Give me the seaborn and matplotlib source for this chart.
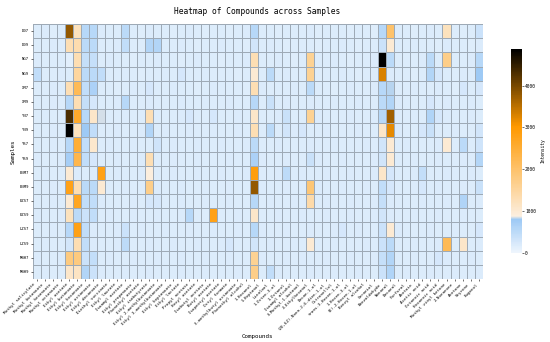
import matplotlib
matplotlib.use("Agg")
import matplotlib.pyplot as plt
from matplotlib.colors import LinearSegmentedColormap
import seaborn as sns
import numpy as np
import pandas as pd

samples = ["D07", "D09", "NG7", "NG9", "XM7", "XM9", "YN7", "YN9", "YS7", "YS9",
           "ENM7", "ENM9", "EZS7", "EZS9", "LZS7", "LZS9", "MBH7", "MBH9"]

compounds = [
    "Methyl salicylate", "Methyl butanoate", "Methyl hexanoate", "Methyl octanoate",
    "Ethyl acetate", "Ethyl butanoate", "Ethyl hexanoate", "Ethyl octanoate",
    "Ethyl decanoate", "Diethyl succinate", "Ethyl laurate", "Isoamyl acetate",
    "Ethyl propanoate", "Phenethyl acetate", "Ethyl isobutyrate", "Ethyl 2-methylbutanoate",
    "Ethyl 3-methylbutanoate", "Ethyl heptanoate", "Ethyl lactate", "Propyl acetate",
    "Hexyl acetate", "Isobutyl acetate", "Butyl acetate", "Isopentyl acetate",
    "Octyl formate", "3-methylbutyl octanoate", "Phenethyl alcohol", "1-Hexanol",
    "1-Heptanol", "Linalool", "1-Octen-3-ol", "1-Octanol",
    "Isoamyl alcohol", "3-Methyl-1-butanol", "2-Ethylhexanol", "Decan-1-ol",
    "(2E,6Z)-Nona-2,6-dien-1-ol", "Citronellol", "trans-3-Hexen-1-ol", "1-Hexen-3-ol",
    "(E)-2-Hexen-1-ol", "Benzyl alcohol", "Geraniol", "Benzaldehyde",
    "Nonanal", "Decanal", "Furfural", "Acetoin",
    "Acetic acid", "Octanoic acid", "Hexanoic acid", "Methyl vinyl ketone",
    "2-Nonanone", "Acetone", "Styrene", "Eugenol",
]

D07 = [180, 200, 170, 190, 3800, 1200, 550, 550,
       200, 180, 190, 500, 180, 170, 200, 190,
       180, 170, 190, 200, 180, 170, 190, 180,
       170, 190, 200, 550, 180, 190, 170, 180,
       190, 180, 200, 170, 180, 190, 180, 170,
       190, 180, 170, 550, 2000, 180, 190, 170,
       180, 200, 190, 1200, 180, 170, 190, 350]
D09 = [190, 180, 200, 180, 1300, 1350, 500, 500,
       190, 180, 200, 450, 180, 190, 600, 600,
       180, 190, 200, 180, 170, 190, 180, 200,
       190, 180, 170, 300, 190, 200, 180, 170,
       180, 190, 180, 170, 190, 180, 200, 180,
       170, 190, 180, 350, 1000, 190, 180, 200,
       190, 180, 170, 200, 190, 180, 170, 200]
NG7 = [200, 190, 180, 190, 130, 1300, 400, 400,
       190, 200, 180, 190, 170, 180, 190, 200,
       180, 190, 170, 180, 200, 190, 180, 170,
       190, 180, 200, 1300, 180, 190, 200, 180,
       170, 190, 1600, 180, 190, 200, 180, 170,
       190, 180, 200, 4870, 500, 180, 190, 180,
       200, 500, 180, 1700, 190, 180, 200, 550]
NG9 = [450, 190, 180, 200, 190, 1500, 500, 500,
       450, 180, 190, 200, 180, 170, 190, 180,
       200, 190, 250, 180, 190, 200, 180, 190,
       180, 170, 190, 1000, 180, 500, 190, 200,
       180, 190, 1600, 170, 180, 190, 200, 180,
       170, 180, 190, 3300, 200, 190, 180, 170,
       190, 600, 250, 180, 190, 200, 180, 780]
XM7 = [190, 180, 200, 180, 1300, 2200, 450, 650,
       180, 190, 170, 190, 200, 180, 250, 190,
       180, 200, 190, 180, 170, 190, 200, 180,
       190, 180, 170, 1300, 200, 190, 180, 190,
       200, 180, 500, 190, 180, 170, 190, 200,
       180, 190, 200, 550, 820, 180, 190, 200,
       180, 190, 200, 180, 170, 260, 190, 260]
XM9 = [180, 190, 200, 190, 550, 1300, 400, 250,
       190, 180, 200, 550, 190, 180, 200, 190,
       190, 180, 200, 190, 180, 200, 190, 180,
       200, 190, 180, 550, 190, 380, 180, 200,
       190, 180, 200, 190, 180, 200, 190, 180,
       200, 190, 180, 500, 600, 200, 180, 190,
       190, 260, 180, 200, 190, 180, 200, 190]
YN7 = [190, 200, 180, 190, 4300, 2600, 550, 1100,
       840, 190, 180, 200, 190, 180, 1300, 190,
       180, 190, 200, 260, 180, 190, 260, 180,
       190, 200, 180, 1100, 190, 180, 200, 380,
       190, 180, 1600, 200, 190, 180, 190, 200,
       180, 190, 200, 550, 3700, 190, 180, 200,
       190, 620, 260, 200, 180, 190, 200, 190]
YN9 = [180, 190, 200, 180, 4870, 1200, 780, 450,
       190, 180, 200, 190, 180, 200, 600, 190,
       200, 180, 190, 200, 180, 190, 200, 180,
       190, 200, 180, 1300, 190, 500, 180, 300,
       200, 250, 190, 180, 200, 190, 180, 190,
       200, 180, 190, 1100, 3200, 200, 190, 180,
       260, 380, 190, 180, 200, 190, 180, 300]
YS7 = [190, 180, 200, 190, 550, 2500, 450, 1050,
       180, 200, 190, 180, 200, 190, 180, 320,
       190, 200, 180, 190, 200, 180, 190, 200,
       180, 190, 200, 500, 180, 190, 200, 180,
       190, 180, 200, 190, 180, 200, 190, 180,
       190, 200, 180, 300, 1000, 190, 200, 180,
       190, 180, 200, 1000, 190, 500, 180, 320]
YS9 = [200, 190, 180, 200, 720, 2300, 450, 250,
       190, 180, 200, 190, 180, 200, 1300, 190,
       180, 200, 190, 180, 200, 190, 180, 190,
       200, 180, 190, 650, 200, 190, 180, 200,
       180, 190, 380, 200, 190, 180, 200, 190,
       180, 190, 200, 300, 1000, 180, 190, 200,
       180, 190, 200, 190, 180, 200, 190, 580]
ENM7 = [190, 200, 180, 190, 1000, 200, 190, 180,
        2800, 190, 200, 180, 190, 200, 900, 180,
        190, 200, 180, 190, 200, 180, 190, 200,
        180, 190, 200, 2900, 190, 180, 200, 480,
        190, 200, 180, 190, 200, 180, 190, 200,
        180, 190, 200, 1100, 250, 190, 180, 200,
        420, 190, 180, 200, 190, 180, 200, 190]
ENM9 = [180, 190, 200, 180, 2800, 1300, 500, 500,
        1000, 190, 180, 200, 190, 180, 1700, 200,
        180, 190, 200, 180, 190, 200, 180, 190,
        200, 180, 190, 3800, 200, 190, 180, 200,
        180, 190, 1900, 200, 180, 190, 200, 180,
        190, 200, 180, 450, 260, 180, 190, 200,
        260, 190, 200, 180, 190, 200, 180, 380]
EZS7 = [190, 180, 200, 190, 1000, 2700, 450, 450,
        200, 190, 180, 190, 200, 180, 260, 260,
        190, 180, 200, 190, 180, 200, 190, 180,
        200, 190, 180, 550, 190, 200, 180, 190,
        200, 180, 1400, 190, 200, 180, 190, 200,
        180, 190, 200, 400, 200, 190, 180, 190,
        200, 180, 190, 200, 180, 620, 190, 200]
EZS9 = [200, 190, 180, 200, 1200, 500, 350, 450,
        190, 200, 180, 190, 200, 180, 190, 200,
        180, 190, 200, 550, 190, 180, 2800, 190,
        180, 200, 190, 1100, 180, 190, 200, 180,
        190, 200, 180, 190, 200, 180, 190, 200,
        180, 190, 200, 300, 200, 180, 190, 200,
        180, 190, 200, 180, 190, 200, 180, 190]
LZS7 = [180, 190, 200, 190, 550, 2800, 450, 200,
        190, 180, 200, 350, 190, 200, 180, 190,
        200, 180, 190, 200, 180, 190, 200, 180,
        190, 200, 180, 550, 200, 180, 190, 200,
        180, 190, 200, 180, 190, 200, 260, 190,
        200, 180, 190, 350, 1000, 200, 190, 180,
        190, 200, 180, 190, 200, 180, 190, 250]
LZS9 = [190, 200, 180, 190, 280, 1300, 450, 200,
        180, 190, 200, 480, 180, 190, 200, 180,
        190, 200, 180, 190, 200, 180, 190, 200,
        260, 190, 180, 300, 190, 200, 180, 190,
        200, 180, 1000, 190, 180, 200, 190, 180,
        190, 200, 180, 350, 500, 190, 180, 200,
        190, 180, 200, 2200, 190, 1100, 180, 200]
MBH7 = [200, 180, 190, 200, 1800, 1800, 350, 420,
        190, 200, 180, 190, 200, 180, 190, 200,
        180, 190, 200, 180, 190, 200, 180, 190,
        200, 180, 190, 1600, 200, 180, 190, 200,
        180, 200, 190, 180, 200, 190, 180, 200,
        190, 180, 200, 400, 600, 180, 190, 200,
        180, 190, 250, 200, 180, 190, 200, 180]
MBH9 = [190, 200, 180, 190, 1100, 1150, 600, 350,
        200, 180, 190, 200, 180, 190, 200, 180,
        190, 180, 200, 190, 180, 200, 190, 180,
        190, 200, 180, 1700, 190, 450, 200, 190,
        180, 190, 200, 180, 190, 200, 180, 190,
        200, 180, 190, 350, 620, 190, 200, 180,
        190, 200, 180, 190, 200, 180, 190, 200]

rows = [D07, D09, NG7, NG9, XM7, XM9, YN7, YN9, YS7, YS9,
        ENM7, ENM9, EZS7, EZS9, LZS7, LZS9, MBH7, MBH9]


def main():
    df = pd.DataFrame(np.array(rows), index=samples, columns=compounds)

    plt.rcParams['font.family'] = ['DejaVu Sans Mono', 'DejaVu Sans']

    # blue for low values, then cream -> orange -> black
    cmap = LinearSegmentedColormap.from_list("blue_orange", [
        (0.0, "#eef5fd"),
        (0.165, "#9cc9f5"),
        (0.178, "#fcefe0"),
        (0.62, "#ff9900"),
        (1.0, "#000000"),
    ])

    fig = plt.figure(figsize=(5.5, 3.42), dpi=100)
    ax = fig.add_axes([0.0591, 0.1842, 0.8185, 0.7456])
    cax = fig.add_axes([0.9285, 0.2611, 0.02, 0.5947])

    sns.heatmap(df, cmap=cmap, vmin=0, ax=ax, cbar_ax=cax,
                linewidths=0.5, linecolor="#9eaab6",
                xticklabels=True, yticklabels=True)

    ax.set_title("Heatmap of Compounds across Samples", fontsize=5.7, pad=7.5)
    ax.set_xlabel("Compounds", fontsize=4.2, labelpad=2)
    ax.set_ylabel("Samples", fontsize=4.2, labelpad=3)
    ax.set_xticklabels(compounds, rotation=45, ha="right", fontsize=3.0)
    ax.set_yticklabels(samples, rotation=0, fontsize=2.8)
    ax.tick_params(length=1.5, width=0.4, pad=1)

    cax.tick_params(labelsize=3.3, length=1.5, width=0.4, pad=1)
    cax.set_ylabel("Intensity", fontsize=3.3, labelpad=3)

    fig.savefig("out.png", dpi=100)
    plt.close(fig)


if __name__ == "__main__":
    main()
